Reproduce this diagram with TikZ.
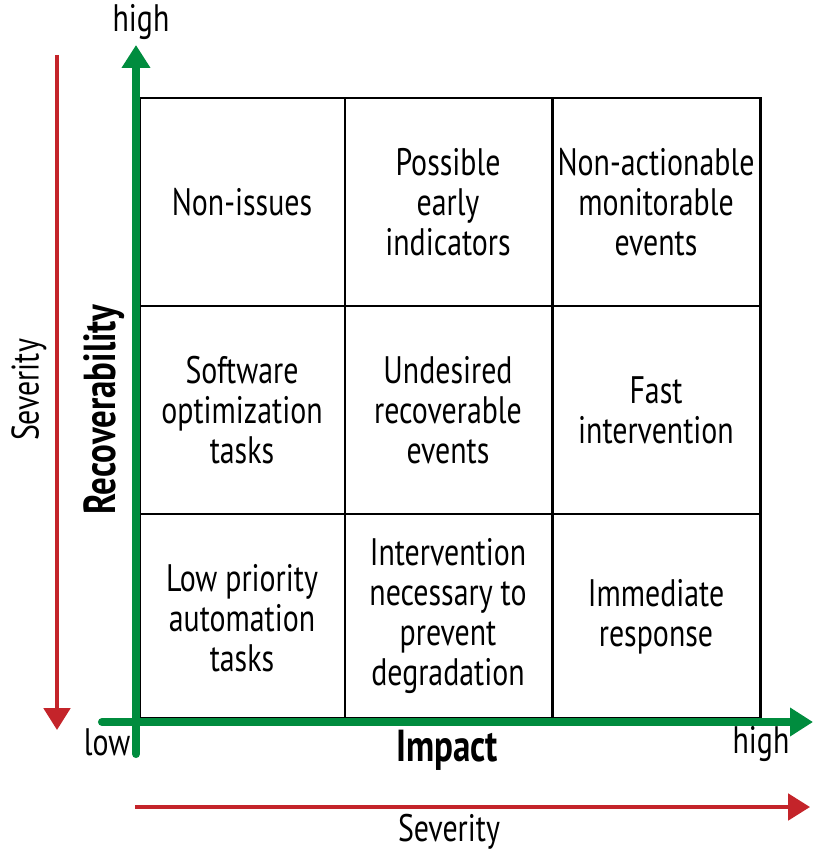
\documentclass[tikz,border=0pt]{standalone}
\usepackage{fontspec}
\setmainfont{PT Sans}[FakeStretch=0.78]
\usetikzlibrary{arrows.meta,positioning}
\definecolor{axGreen}{RGB}{0,140,62}
\definecolor{sevRed}{RGB}{196,36,42}
\tikzset{
  gridln/.style={line width=1.7pt, black},
  greenax/.style={-{Triangle[length=13pt,width=15.5pt]}, line width=4.6pt, axGreen},
  redax/.style={-{Triangle[length=12.5pt,width=15pt]}, line width=2.3pt, sevRed},
  cell/.style={align=center, font=\fontsize{21.8}{22.7}\selectfont, inner sep=0pt},
  lbl/.style={font=\fontsize{21.8}{22.7}\selectfont, inner sep=0pt},
  axtitle/.style={font=\fontsize{25.5}{27}\selectfont\bfseries, inner sep=0pt},
}

\begin{document}
\begin{tikzpicture}[x=0.2mm, y=-0.2mm]
  \useasboundingbox (0,0) rectangle (825,863);
  % grid of the nine classes
  \draw[gridln] (140,98) rectangle (760,718);
  \draw[gridln] (345,98) -- (345,718);
  \draw[gridln] (552,98) -- (552,718);
  \draw[gridln] (140,306) -- (760,306);
  \draw[gridln] (140,514) -- (760,514);
  % cell texts
  \node[cell] (c11) at (242,202) {Non-issues};
  \node[cell] (c12) at (448,202) {Possible\\early\\indicators};
  \node[cell] (c13) at (656,202) {Non-actionable\\monitorable\\events};
  \node[cell] (c21) at (242,410) {Software\\optimization\\tasks};
  \node[cell] (c22) at (448,410) {Undesired\\recoverable\\events};
  \node[cell] (c23) at (656,410) {Fast\\intervention};
  \node[cell] (c31) at (242,618) {Low priority\\automation\\tasks};
  \node[cell] (c32) at (448,616) {Intervention\\necessary to\\prevent\\degradation};
  \node[cell] (c33) at (656,617) {Immediate\\response};
  % green axes
  \coordinate (orgV) at (136,754);
  \coordinate (topV) at (136,45);
  \coordinate (orgH) at (102,722);
  \coordinate (endH) at (813,722);
  \draw[greenax, line cap=round] (orgV) -- (topV);
  \draw[greenax, line cap=round] (orgH) -- (endH);
  \node[lbl] (hiV) at (141,22) {high};
  \node[lbl] (loH) at (107,742) {low};
  \node[lbl] (hiH) at (761,744) {high};
  \node[axtitle] (impact) at (447,750) {Impact};
  \node[axtitle, rotate=90] (recov) at (104,410) {Recoverability};
  % red severity arrows
  \coordinate (sevTop) at (57,55);
  \coordinate (sevBot) at (57,730);
  \coordinate (sevL) at (135,807);
  \coordinate (sevR) at (810,807);
  \draw[redax] (sevTop) -- (sevBot);
  \draw[redax] (sevL) -- (sevR);
  \node[lbl, rotate=90] (sevV) at (29,390) {Severity};
  \node[lbl] (sevH) at (449,832) {Severity};
\end{tikzpicture}
\end{document}
